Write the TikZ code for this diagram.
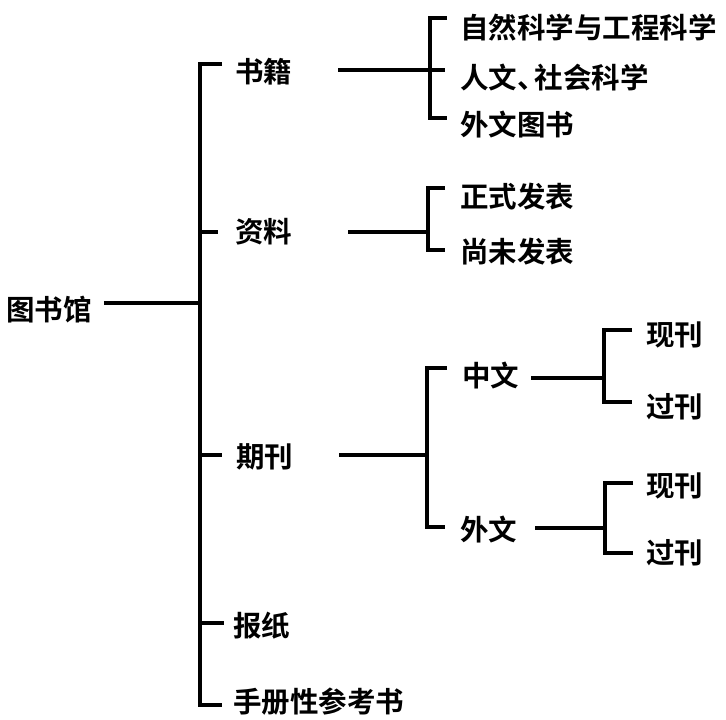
\documentclass[tikz,border=0pt]{standalone}
\usepackage{fontspec}
\newfontfamily\cjk{Noto Sans CJK SC}[BoldFont={Noto Sans CJK SC Bold}]
\begin{document}
\begin{tikzpicture}[x=1pt,y=-1pt,
  lbl/.style={anchor=west,inner sep=0pt,font=\cjk\bfseries\fontsize{28.5}{29}\selectfont},
  ln/.style={line width=3.3pt,line cap=butt,line join=miter}]
\useasboundingbox[fill=white] (0,0) rectangle (726,720);
% labels
\node[lbl] (root) at (6,310) {图书馆};
\node[lbl] (n1) at (235,72) {书籍};
\node[lbl] (n2) at (235,232) {资料};
\node[lbl] (n3) at (236,457) {期刊};
\node[lbl] (n4) at (233,626) {报纸};
\node[lbl] (n5) at (233,702) {手册性参考书};
\node[lbl] (a1) at (460,28) {自然科学与工程科学};
\node[lbl] (a2) at (460,78) {人文、\kern-11pt 社会科学};
\node[lbl] (a3) at (460,125) {外文图书};
\node[lbl] (b1) at (460,197) {正式发表};
\node[lbl] (b2) at (460,252) {尚未发表};
\node[lbl] (c1) at (462,376) {中文};
\node[lbl] (c2) at (460,530) {外文};
\node[lbl] (d1) at (646,335) {现刊};
\node[lbl] (d2) at (646,407) {过刊};
\node[lbl] (e1) at (646,486) {现刊};
\node[lbl] (e2) at (646,553) {过刊};
% junction coordinates
\coordinate (m0) at (200,303);
\coordinate (j1) at (430,70);
\coordinate (j2) at (428,232);
\coordinate (j3) at (427,455);
\coordinate (j4) at (604,378);
\coordinate (j5) at (605,528);
% root
\draw[ln] (root.east) ++(12,-7) -- (m0);
\draw[ln] (222,64) -- (200,64) -- (200,705) -- (222,705);
\draw[ln] (200,232) -- (218,232);
\draw[ln] (200,455) -- (222,455);
\draw[ln] (200,623) -- (224,623);
% 书籍
\draw[ln] (n1.east) ++(46,-2) -- (j1);
\draw[ln] (447,18) -- (430,18) -- (430,118) -- (447,118);
\draw[ln] (j1) -- (445,70);
% 资料
\draw[ln] (n2.east) ++(56,0) -- (j2);
\draw[ln] (445,188) -- (428,188) -- (428,250) -- (445,250);
% 期刊
\draw[ln] (n3.east) ++(46,-2) -- (j3);
\draw[ln] (447,368) -- (427,368) -- (427,527) -- (445,527);
% 中文
\draw[ln] (c1.east) ++(12,2) -- (j4);
\draw[ln] (632,330) -- (604,330) -- (604,402) -- (632,402);
% 外文
\draw[ln] (c2.east) ++(18,-2) -- (j5);
\draw[ln] (633,483) -- (605,483) -- (605,553) -- (633,553);
\end{tikzpicture}
\end{document}
